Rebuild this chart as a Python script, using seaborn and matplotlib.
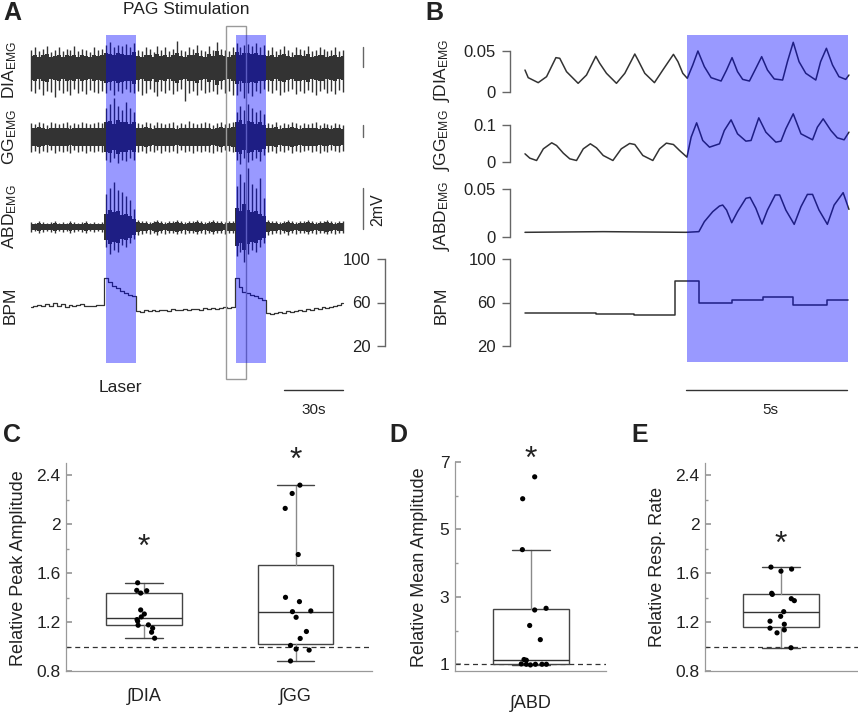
import numpy as np
import pandas as pd
import matplotlib
matplotlib.use("Agg")
import matplotlib.pyplot as plt
from matplotlib.patches import Rectangle
import seaborn as sns

# ---------------- panel A: raw recordings (80 bins over 157 s) ----------------
t_A = np.linspace(0, 157, 80)
laser_start = [37.5, 103.0]
laser_len = 15.3
zoom_win = (98.0, 108.0)

# EMG spike extents per bin (mV)
dia_hi = [0.9, 1.0, 0.85, 0.95, 1.05, 0.8, 0.9, 1.0, 0.85, 0.95, 0.9, 1.05, 0.85, 0.95, 0.9, 0.8, 1.0, 0.9, 0.95,
          1.1, 1.25, 1.0, 1.1, 1.05, 1.15, 1.0, 1.2,
          0.9, 0.85, 1.0, 0.95, 0.8, 1.05, 0.9, 1.0, 0.85, 0.95, 1.3, 0.9, 0.85, 1.0, 0.95, 1.1, 0.9, 0.85, 1.05, 0.9,
          1.25, 0.95, 0.9, 0.85, 1.0,
          1.2, 1.0, 1.1, 1.15, 1.05, 1.2, 1.0, 1.1,
          0.9, 1.0, 0.85, 0.95, 1.05, 0.9, 0.8, 1.0, 0.95, 0.9, 1.05, 0.85, 0.9, 1.0, 0.95, 0.85, 0.9, 1.0, 0.85, 0.9]
dia_lo = [-1.1, -1.2, -1.0, -1.3, -1.1, -1.15, -1.4, -1.05, -1.2, -1.1, -1.3, -1.0, -1.2, -1.1, -1.25, -1.05, -1.15,
          -1.2, -1.1,
          -1.2, -1.05, -1.3, -1.1, -1.2, -1.0, -1.15, -1.2,
          -1.1, -1.3, -1.2, -1.0, -1.15, -1.35, -1.1, -1.2, -1.05, -1.25, -1.1, -1.0, -1.6, -1.2, -1.1, -1.3, -1.05,
          -1.2, -1.15, -1.1, -1.25, -1.0, -1.2, -1.1, -1.3,
          -1.3, -1.1, -1.45, -1.2, -1.35, -1.1, -1.2, -1.0,
          -1.1, -1.2, -1.05, -1.3, -1.15, -1.1, -1.0, -1.25, -1.1, -1.2, -1.05, -1.15, -1.3, -1.1, -1.0, -1.2, -1.1,
          -1.25, -1.05, -1.15]

gg_hi = [0.7, 0.65, 0.75, 0.7, 0.6, 0.75, 0.7, 0.65, 0.7, 0.75, 0.6, 0.7, 0.65, 0.75, 0.7, 0.65, 0.7, 0.75, 0.7,
         1.4, 1.6, 1.9, 1.5, 1.3, 1.7, 1.4, 1.2,
         0.7, 0.65, 0.75, 0.7, 0.6, 0.75, 0.7, 0.65, 0.7, 0.75, 0.6, 0.7, 0.65, 0.8, 0.7, 0.65, 0.7, 0.75, 0.7, 0.6,
         0.7, 0.75, 0.65, 0.7, 0.75,
         1.2, 1.5, 1.3, 1.6, 1.4, 1.2, 1.3, 1.1,
         0.7, 0.65, 0.75, 0.6, 0.7, 0.65, 0.75, 0.7, 0.6, 0.7, 0.65, 0.7, 0.75, 0.6, 0.7, 0.65, 0.6, 0.7, 0.65, 0.6]
gg_lo = [-0.75, -0.7, -0.8, -0.7, -0.75, -0.65, -0.8, -0.7, -0.75, -0.7, -0.8, -0.65, -0.75, -0.7, -0.8, -0.7,
         -0.75, -0.7, -0.75,
         -1.1, -1.2, -1.0, -1.25, -1.1, -1.15, -1.0, -1.1,
         -0.75, -0.7, -0.8, -0.7, -0.75, -0.65, -0.8, -0.7, -0.75, -0.7, -0.8, -0.65, -0.75, -0.7, -0.8, -0.7, -0.75,
         -0.7, -0.75, -0.8, -0.7, -0.75, -0.65, -0.7, -0.75,
         -1.1, -1.3, -1.0, -1.2, -1.1, -1.0, -1.15, -0.9,
         -0.75, -0.7, -0.8, -0.7, -0.75, -0.65, -0.8, -0.7, -0.75, -0.7, -0.65, -0.75, -0.7, -0.8, -0.7, -0.75,
         -0.65, -0.7, -0.75, -0.7]

abd_hi = [0.25, 0.2, 0.3, 0.25, 0.2, 0.25, 0.3, 0.2, 0.25, 0.2, 0.3, 0.25, 0.2, 0.25, 0.3, 0.2, 0.25, 0.2, 0.25,
          1.6, 1.9, 2.2, 1.8, 1.7, 1.5, 1.3, 0.9,
          0.35, 0.3, 0.3, 0.25, 0.3, 0.35, 0.3, 0.25, 0.3, 0.3, 0.35, 0.3, 0.25, 0.3, 0.3, 0.35, 0.3, 0.25, 0.3, 0.35,
          0.3, 0.3, 0.25, 0.3, 0.3,
          2.0, 2.6, 2.2, 2.9, 2.1, 1.9, 2.4, 1.4,
          0.35, 0.3, 0.3, 0.25, 0.3, 0.35, 0.3, 0.25, 0.3, 0.3, 0.35, 0.3, 0.25, 0.3, 0.3, 0.35, 0.3, 0.25, 0.3, 0.3]
abd_lo = [-0.25, -0.2, -0.3, -0.25, -0.2, -0.25, -0.3, -0.2, -0.25, -0.2, -0.3, -0.25, -0.2, -0.25, -0.3, -0.2,
          -0.25, -0.2, -0.25,
          -1.0, -1.3, -1.1, -1.2, -0.9, -1.0, -0.8, -0.6,
          -0.4, -0.35, -0.3, -0.35, -0.3, -0.4, -0.3, -0.35, -0.3, -0.3, -0.35, -0.3, -0.35, -0.3, -0.3, -0.35, -0.3,
          -0.35, -0.3, -0.35, -0.3, -0.3, -0.35, -0.3, -0.3,
          -1.4, -1.2, -1.7, -1.3, -1.1, -1.2, -1.0, -0.8,
          -0.4, -0.35, -0.3, -0.35, -0.3, -0.4, -0.3, -0.35, -0.3, -0.3, -0.35, -0.3, -0.35, -0.3, -0.3, -0.35, -0.3,
          -0.35, -0.3, -0.3]

bpm_A = [56, 57, 58, 57, 59, 57, 60, 57, 59, 56, 58, 57, 58, 59, 57, 57, 57, 58, 58,
         83, 79, 75, 73, 71, 69, 67, 66,
         52, 51, 53, 52, 53, 52, 53, 53, 52, 54, 53, 53, 54, 53, 54, 54, 53, 55, 54, 55, 54, 55, 56, 55, 56,
         83, 74, 70, 69, 67, 66, 64, 62,
         50, 49, 50, 51, 50, 52, 51, 52, 53, 52, 54, 53, 55, 54, 56, 55, 56, 57, 58, 60]

# scale bars (mV) drawn at the right of the traces
dia_bar = (0.05, 1.02)
gg_bar = (0.0, 0.59)
abd_bar = (-0.1, 1.9)
time_bar_A = (127, 157)

# ---------------- panel B: integrated activity, 10 s window ----------------
b_dia_t = [0.0, 0.10, 0.41, 0.67, 0.96, 1.08, 1.29, 1.65, 1.91, 2.20, 2.32, 2.53, 2.84, 3.10, 3.41, 3.51, 3.72,
           4.02, 4.28, 4.61, 4.75, 4.90, 5.04, 5.21, 5.37, 5.57, 5.78, 6.09, 6.26, 6.43, 6.60, 6.76, 6.97, 7.17,
           7.35, 7.53, 7.74, 8.00, 8.15, 8.33, 8.51, 8.72, 9.03, 9.18, 9.36, 9.55, 9.75, 9.96, 10.06]
b_dia_v = [0.0268, 0.0175, 0.0114, 0.0187, 0.0419, 0.0411, 0.0248, 0.0106, 0.0207, 0.0435, 0.0350, 0.0228, 0.0106,
           0.0228, 0.0463, 0.0390, 0.0228, 0.0114, 0.0268, 0.0459, 0.0370, 0.0228, 0.0167, 0.0329, 0.0500, 0.0309,
           0.0175, 0.0134, 0.0268, 0.0419, 0.0248, 0.0154, 0.0134, 0.0289, 0.0431, 0.0268, 0.0159, 0.0146, 0.0370,
           0.0606, 0.0370, 0.0228, 0.0146, 0.0370, 0.0533, 0.0329, 0.0187, 0.0154, 0.0207]
b_gg_t = [0.0, 0.15, 0.36, 0.57, 0.83, 0.98, 1.19, 1.39, 1.60, 1.81, 2.03, 2.22, 2.43, 2.73, 2.99, 3.25, 3.41, 3.66,
          3.97, 4.18, 4.39, 4.61, 4.80, 5.03, 5.16, 5.33, 5.52, 5.73, 6.04, 6.19, 6.40, 6.60, 6.86, 7.02, 7.26, 7.48,
          7.79, 7.95, 8.10, 8.33, 8.57, 8.77, 8.93, 9.08, 9.26, 9.50, 9.70, 9.91, 10.06]
b_gg_v = [0.0234, 0.0117, 0.0054, 0.0369, 0.0532, 0.0459, 0.0252, 0.0099, 0.0054, 0.0369, 0.0505, 0.0396, 0.0189,
          0.0054, 0.0369, 0.0514, 0.0486, 0.0189, 0.0054, 0.0369, 0.0523, 0.0486, 0.0324, 0.0144, 0.0685, 0.1072,
          0.0595, 0.0414, 0.0505, 0.0865, 0.1153, 0.0775, 0.0577, 0.0595, 0.1207, 0.0820, 0.0550, 0.0577, 0.0910,
          0.1315, 0.0775, 0.0685, 0.0613, 0.0955, 0.1180, 0.0865, 0.0667, 0.0613, 0.0820]
b_abd_t = [0.0, 2.43, 5.00, 5.40, 5.57, 5.83, 6.04, 6.14, 6.26, 6.42, 6.60, 6.86, 6.99, 7.17, 7.36, 7.53, 7.77, 7.91,
           8.10, 8.36, 8.57, 8.77, 8.93, 9.13, 9.39, 9.60, 9.88, 10.06]
b_abd_v = [0.0049, 0.0056, 0.0049, 0.0056, 0.0160, 0.0264, 0.0323, 0.0333, 0.0281, 0.0149, 0.0264, 0.0403, 0.0413,
           0.0299, 0.0135, 0.0281, 0.0438, 0.0438, 0.0281, 0.0132, 0.0316, 0.0444, 0.0444, 0.0281, 0.0132, 0.0333,
           0.0462, 0.0288]
b_bpm_edges = [0.0, 2.2, 3.4, 4.66, 5.4, 6.42, 7.38, 8.31, 9.39, 10.04]
b_bpm_vals = [50.5, 49.6, 48.4, 79.5, 59.1, 62.7, 64.9, 57.3, 62.1]
b_laser = (5.03, 10.03)
time_bar_B = (5.0, 10.0)

# ---------------- panels C-E: group data ----------------
c_dia = [1.521, 1.459, 1.437, 1.456, 1.299, 1.266, 1.242, 1.220, 1.207, 1.177, 1.174, 1.150, 1.117, 1.068]
c_dia_jit = [-0.042, -0.048, -0.022, 0.018, -0.022, 0.002, -0.018, -0.046, -0.042, 0.029, -0.039, 0.057, 0.050,
             0.070]
c_gg = [2.319, 2.251, 2.129, 1.752, 1.402, 1.367, 1.285, 1.291, 1.239, 1.123, 1.066, 1.009, 0.979, 0.971, 0.882]
c_gg_jit = [0.029, -0.022, -0.068, 0.018, -0.066, 0.026, -0.020, 0.101, 0.004, 0.072, 0.031, -0.033, 0.004, 0.090,
            -0.033]
d_abd = [6.56, 5.91, 4.40, 2.61, 2.66, 2.15, 1.73, 1.14, 1.12, 1.01, 1.00, 0.98, 1.00, 1.00, 1.00]
d_abd_jit = [0.024, -0.055, -0.057, 0.024, 0.099, -0.009, 0.061, -0.046, -0.031, -0.064, -0.031, -0.004, 0.029,
             0.072, 0.101]
e_rate = [1.649, 1.616, 1.633, 1.435, 1.426, 1.391, 1.375, 1.285, 1.247, 1.207, 1.182, 1.150, 1.136, 1.112, 0.990]
e_rate_jit = [-0.066, 0.0, 0.070, -0.061, -0.057, 0.068, 0.088, 0.018, -0.002, -0.072, 0.022, -0.072, 0.022,
              -0.026, 0.066]

# ---------------- style ----------------
sns.set_theme(style="white")
plt.rcParams["font.family"] = ["Liberation Sans", "DejaVu Sans"]
plt.rcParams["mathtext.fontset"] = "custom"
plt.rcParams["mathtext.rm"] = "Liberation Sans"
plt.rcParams["mathtext.default"] = "regular"

TRACE = "#333333"
AXC = "#666666"
TXT = "#222222"
BLUE = (0.0, 0.0, 1.0, 0.4)

W, H = 858, 713
fig = plt.figure(figsize=(W / 100, H / 100), dpi=100)


def px_axes(x0, y0, x1, y1):
    ax = fig.add_axes([x0 / W, 1 - y1 / H, (x1 - x0) / W, (y1 - y0) / H])
    ax.patch.set_alpha(0)
    return ax


def ftext(x, y, s, **kw):
    kw.setdefault("color", TXT)
    fig.text(x / W, 1 - y / H, s, **kw)


def bracket_axis(ax, xpos, ticks, labels, pad):
    for side in ["top", "right", "bottom"]:
        ax.spines[side].set_visible(False)
    ax.spines["left"].set_position(("data", xpos))
    ax.spines["left"].set_bounds(ticks[0], ticks[-1])
    ax.spines["left"].set_color(AXC)
    ax.spines["left"].set_linewidth(1)
    ax.set_xticks([])
    ax.set_yticks(ticks)
    ax.set_yticklabels(labels)
    ax.tick_params(axis="y", direction="out", length=6, width=1, color=AXC, pad=pad,
                   labelsize=12, labelcolor=TXT, left=True)


XL_A = (-5.5, 183)


def emg(ax, hi, lo, ylim, bar):
    hi, lo = np.array(hi), np.array(lo)
    core = 0.65 * np.minimum(hi, -lo)
    ax.fill_between(t_A, -core, core, step="mid", color=TRACE, lw=0)
    ax.vlines(t_A, lo, hi, color=TRACE, lw=1.0)
    ax.plot([166.8, 166.8], bar, color=AXC, lw=1)
    ax.set_xlim(*XL_A)
    ax.set_ylim(*ylim)
    ax.axis("off")


emg(px_axes(20, 20, 395, 116), dia_hi, dia_lo, (-2.34, 2.34), dia_bar)
emg(px_axes(20, 89, 395, 185), gg_hi, gg_lo, (-2.34, 2.34), gg_bar)
emg(px_axes(20, 160, 395, 294), abd_hi, abd_lo, (-3.27, 3.27), abd_bar)

ax = px_axes(20, 255, 395, 350)
sns.lineplot(x=t_A, y=bpm_A, ax=ax, color=TRACE, lw=0.9, drawstyle="steps-mid")
ax.set_xlim(*XL_A)
ax.set_ylim(16.3, 103.7)
bracket_axis(ax, 177.9, [20, 60, 100], ["20", "60", "100"], 4)
ax.set_ylabel("")

# overlay A: zoom window, laser bands, time bar
ov = px_axes(20, 20, 395, 395)
ov.set_xlim(*XL_A)
ov.set_ylim(0, 1)
ov.axis("off")
ov.add_patch(Rectangle((zoom_win[0], 0.0427), zoom_win[1] - zoom_win[0], 0.941,
                       transform=ov.get_xaxis_transform(), fill=False, ec="#9a9a9a", lw=1, zorder=1))
for s in laser_start:
    ov.axvspan(s, s + laser_len, ymin=0.0853, ymax=0.96, color=BLUE, lw=0, zorder=2)
ov.plot(time_bar_A, [0.0133, 0.0133], color=TRACE, lw=1)

ftext(186, 10, "PAG Stimulation", ha="center", va="center", fontsize=12.5)
ftext(120, 388, "Laser", ha="center", va="center", fontsize=12.5)
ftext(314, 410, "30s", ha="center", va="center", fontsize=11)
ftext(378, 210, "2mV", ha="center", va="center", fontsize=11.5, rotation=90)
for y, s in [(70, "DIA$_{EMG}$"), (137, "GG$_{EMG}$"), (217, "ABD$_{EMG}$"), (305, "BPM")]:
    ftext(10, y, s, ha="center", va="center", fontsize=12.5, rotation=90)

# ---------------- panel B ----------------
XL_B = (-0.776, 10.155)
b_specs = [
    ((500, 35, 852, 98), b_dia_t, b_dia_v, (-0.0073, 0.0695), [0, 0.05], ["0", "0.05"]),
    ((500, 105, 852, 166), b_gg_t, b_gg_v, (-0.0095, 0.1554), [0, 0.1], ["0", "0.1"]),
    ((500, 175, 852, 240), b_abd_t, b_abd_v, (-0.0031, 0.0646), [0, 0.05], ["0", "0.05"]),
]
for box, tt, vv, yl, tk, tl in b_specs:
    ax = px_axes(*box)
    sns.lineplot(x=tt, y=vv, ax=ax, color=TRACE, lw=1.1)
    ax.set_xlim(*XL_B)
    ax.set_ylim(*yl)
    bracket_axis(ax, -0.466, tk, tl, 4)
    ax.set_ylabel("")

ax = px_axes(500, 255, 852, 350)
sns.lineplot(x=b_bpm_edges, y=b_bpm_vals + [b_bpm_vals[-1]], ax=ax, color=TRACE, lw=1.1, drawstyle="steps-post")
ax.set_xlim(*XL_B)
ax.set_ylim(16.3, 103.7)
bracket_axis(ax, -0.466, [20, 60, 100], ["20", "60", "100"], 4)
ax.set_ylabel("")

ovb = px_axes(500, 20, 852, 395)
ovb.set_xlim(*XL_B)
ovb.set_ylim(0, 1)
ovb.axis("off")
ovb.axvspan(*b_laser, ymin=0.088, ymax=0.96, color=BLUE, lw=0)
ovb.plot(time_bar_B, [0.0133, 0.0133], color=TRACE, lw=1)
ftext(770, 410, "5s", ha="center", va="center", fontsize=11)
for y, s in [(70, "∫DIA$_{EMG}$"), (140, "∫GG$_{EMG}$"), (216, "∫ABD$_{EMG}$"), (305, "BPM")]:
    ftext(441, y, s, ha="center", va="center", fontsize=12.5, rotation=90)


# ---------------- panels C-E ----------------
def box_stats(vals):
    v = np.asarray(vals)
    q1, med, q3 = np.quantile(v, [0.25, 0.5, 0.75], method="hazen")
    iqr = q3 - q1
    return {"med": med, "q1": q1, "q3": q3,
            "whislo": v[v >= q1 - 1.5 * iqr].min(), "whishi": v[v <= q3 + 1.5 * iqr].max(), "fliers": []}


def box_panel(ax, groups, xlim, ylim, ticks, tlabels, minor, xpad):
    names = [g[0] for g in groups]
    ax.bxp([box_stats(g[1]) for g in groups], positions=range(len(groups)), widths=0.5, patch_artist=True,
           showfliers=False, manage_ticks=False,
           boxprops={"facecolor": "white", "edgecolor": "#444444", "linewidth": 1},
           whiskerprops={"color": "#8a8a8a", "linewidth": 1},
           capprops={"color": "#444444", "linewidth": 1},
           medianprops={"color": "#333333", "linewidth": 1})
    for i, g in enumerate(groups):
        sns.scatterplot(x=i + np.array(g[2]), y=g[1], ax=ax, color="black", s=14, edgecolor="none", zorder=4)
    ax.axhline(1, color="#333333", lw=0.9, ls=(0, (4, 3)), zorder=1)
    ax.set_xlim(*xlim)
    ax.set_ylim(*ylim)
    ax.set_xticks(range(len(names)))
    ax.set_xticklabels(names)
    ax.set_yticks(ticks)
    ax.set_yticklabels(tlabels)
    ax.set_yticks(minor, minor=True)
    ax.set_xlabel("")
    ax.set_ylabel("")
    sns.despine(ax=ax)
    for side in ["left", "bottom"]:
        ax.spines[side].set_color("#999999")
        ax.spines[side].set_linewidth(0.9)
    ax.tick_params(axis="y", which="both", direction="in", color="#999999", labelsize=12.5, labelcolor=TXT,
                   left=True, pad=4)
    ax.tick_params(axis="y", which="major", length=4)
    ax.tick_params(axis="y", which="minor", length=2)
    ax.tick_params(axis="x", length=0, pad=xpad, labelsize=13, labelcolor=TXT)


axC = px_axes(66, 463, 372, 671)
box_panel(axC, [("∫DIA", c_dia, c_dia_jit), ("∫GG", c_gg, c_gg_jit)], (-0.515, 1.505), (0.8, 2.5),
          [0.8, 1.2, 1.6, 2.0, 2.4], ["0.8", "1.2", "1.6", "2", "2.4"], [1.0, 1.4, 1.8, 2.2], 12)
axD = px_axes(455, 462, 606, 671)
box_panel(axD, [("∫ABD", d_abd, d_abd_jit)], (-0.5, 0.493), (0.8, 7.0),
          [1, 3, 5, 7], ["1", "3", "5", "7"], [2, 4, 6], 17)
axE = px_axes(705, 463, 858, 671)
box_panel(axE, [("", e_rate, e_rate_jit)], (-0.5, 0.507), (0.8, 2.5),
          [0.8, 1.2, 1.6, 2.0, 2.4], ["0.8", "1.2", "1.6", "2", "2.4"], [1.0, 1.4, 1.8, 2.2], 12)

for ax, x, y in [(axC, 0, 1.81), (axC, 1, 2.52), (axD, 0, 7.05), (axE, 0, 1.83)]:
    ax.text(x, y, "*", ha="center", va="center", fontsize=23, color=TXT, clip_on=False)

ftext(19, 568, "Relative Peak Amplitude", ha="center", va="center", fontsize=13, rotation=90)
ftext(420, 567, "Relative Mean Amplitude", ha="center", va="center", fontsize=13, rotation=90)
ftext(658, 567, "Relative Resp. Rate", ha="center", va="center", fontsize=13, rotation=90)

for x, y, s in [(3, 20, "A"), (425, 20, "B"), (3, 442, "C"), (389, 442, "D"), (631, 442, "E")]:
    ftext(x, y, s, ha="left", va="baseline", fontsize=18, fontweight="bold")

fig.savefig("out.png", dpi=100)
